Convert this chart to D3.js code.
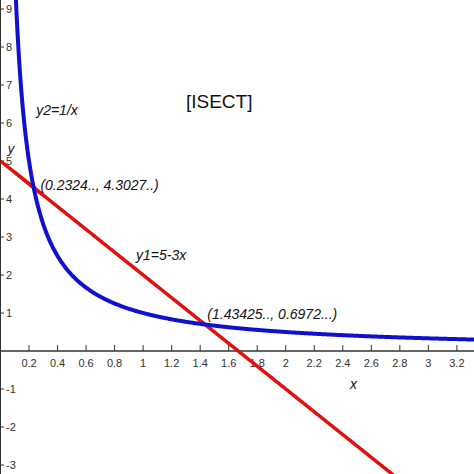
<!DOCTYPE html>
<html><head><script src="https://cdn.jsdelivr.net/npm/d3@7"></script>
<style>body{margin:0;background:#fff}</style></head><body>
<svg id="c" width="474" height="474"></svg>
<script>
const xTicks=[0.2,0.4,0.6,0.8,1,1.2,1.4,1.6,1.8,2,2.2,2.4,2.6,2.8,3,3.2];
const yTicks=[-3,-2,-1,1,2,3,4,5,6,7,8,9];
const curveX=d3.range(0.1,3.4,0.005); // sample points for functions
const points=[{x:0.2324,y:4.3027,label:"(0.2324.., 4.3027..)"},{x:1.43425,y:0.6972,label:"(1.43425.., 0.6972...)"}];
const svg=d3.select("#c");
const x=d3.scaleLinear().domain([0,3.32]).range([0.5,474]);
const y=d3.scaleLinear().domain([0,9]).range([351,9]);
const g=svg.append("g");
g.append("line").attr("x1",0).attr("x2",474).attr("y1",y(0)).attr("y2",y(0)).attr("stroke","#333").attr("stroke-width",1.5);
g.append("line").attr("x1",0.5).attr("x2",0.5).attr("y1",0).attr("y2",474).attr("stroke","#333");
xTicks.forEach(t=>{
 g.append("line").attr("x1",x(t)).attr("x2",x(t)).attr("y1",y(0)-6).attr("y2",y(0)).attr("stroke","#333");
 g.append("text").attr("x",x(t)).attr("y",y(0)+16).attr("text-anchor","middle").attr("font-family","Liberation Sans").attr("font-size",11).attr("fill","#333").text(t);
});
yTicks.forEach(t=>{
 g.append("line").attr("x1",0).attr("x2",4).attr("y1",y(t)).attr("y2",y(t)).attr("stroke","#333");
 g.append("text").attr("x",6).attr("y",y(t)+4).attr("font-family","Liberation Sans").attr("font-size",11).attr("fill","#333").text(t);
});
const line=d3.line().x(d=>x(d[0])).y(d=>y(d[1]));
svg.append("path").attr("d",line(curveX.map(v=>[v,5-3*v]).concat([[3.4,5-3*3.4]]).filter(d=>d[0]>=0))).attr("fill","none").attr("stroke","#e01010").attr("stroke-width",3.5);
svg.append("path").attr("d",line([[0,5]].concat(curveX.filter(v=>v<0.3).map(v=>[v,5-3*v])))).attr("fill","none").attr("stroke","#e01010").attr("stroke-width",3.5);
svg.append("path").attr("d",line(curveX.map(v=>[v,1/v]))).attr("fill","none").attr("stroke","#1010d0").attr("stroke-width",4);
const ti=(tx,ty,s,size,it)=>svg.append("text").attr("x",tx).attr("y",ty).attr("font-family","Liberation Sans").attr("font-size",size).attr("font-style",it?"italic":"normal").attr("fill","#111").text(s);
ti(x(0.25),y(6.2),"y2=1/x",14,true);
ti(x(0.95),y(2.4),"y1=5-3x",14,true);
ti(x(0.05),y(5.2),"y",13,true);
ti(x(2.45),y(-1),"x",14,true);
ti(x(1.3),y(6.4),"[ISECT]",19,false);
ti(x(0.28),y(4.25),points[0].label,14,true);
ti(x(1.45),y(0.85),points[1].label,14,true);
</script></body></html>
